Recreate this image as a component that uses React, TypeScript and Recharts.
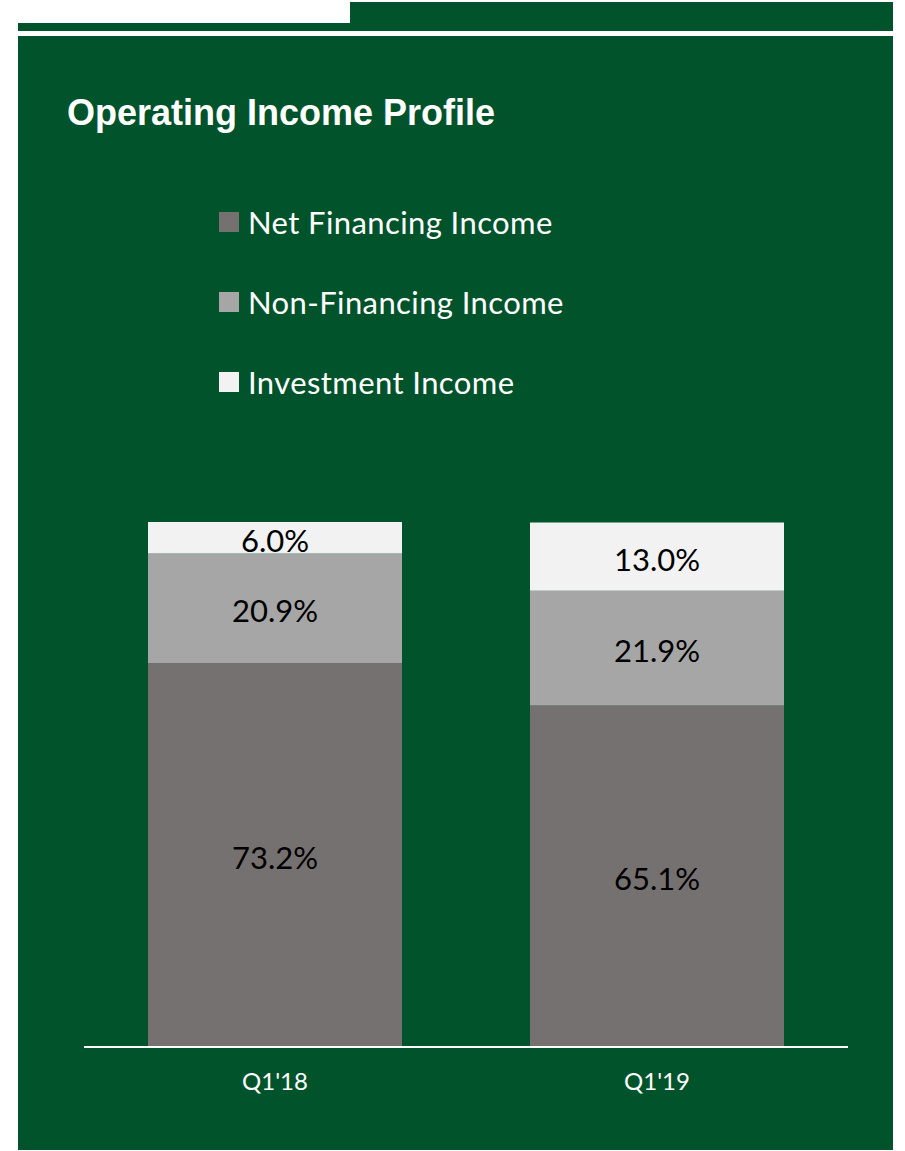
import { BarChart, Bar, XAxis, YAxis, Legend, LabelList } from "recharts";

const quarters = ["Q1'18", "Q1'19"];
const netFinancing = [73.2, 65.1];
const nonFinancing = [20.9, 21.9];
const investment = [6.0, 13.0];

const seriesKeys = ["net", "nonFin", "invest"];
const seriesNames = ["Net Financing Income", "Non-Financing Income", "Investment Income"];
const seriesColors = ["#767171", "#A6A6A6", "#F2F2F2"];

const GREEN = "#01532B";
const FONT = "Lato, 'Open Sans', sans-serif";

const data = quarters.map((q, i) => ({
  quarter: q,
  net: netFinancing[i],
  nonFin: nonFinancing[i],
  invest: investment[i],
}));

const fmt = (v: any) => `${Number(v).toFixed(1)}%`;

function LegendBox() {
  return (
    <div style={{ fontFamily: FONT }}>
      {seriesNames.map((name, i) => (
        <div
          key={name}
          style={{ display: "flex", alignItems: "center", height: 80 }}
        >
          <span
            style={{
              width: 20,
              height: 20,
              background: seriesColors[i],
              marginRight: 9,
              display: "inline-block",
            }}
          />
          <span style={{ color: "#fff", fontSize: 31, letterSpacing: 0.4 }}>{name}</span>
        </div>
      ))}
    </div>
  );
}

export default function App() {
  return (
    <div
      style={{
        position: "absolute",
        left: 0,
        top: 0,
        width: 905,
        height: 1151,
        background: "#fff",
        overflow: "hidden",
      }}
    >
      {/* header strips */}
      <div style={{ position: "absolute", left: 350, top: 2, width: 543, height: 29, background: GREEN }} />
      <div style={{ position: "absolute", left: 18, top: 23, width: 332, height: 8, background: GREEN }} />
      <div style={{ position: "absolute", left: 18, top: 36, width: 875, height: 1114, background: GREEN }} />

      <div
        style={{
          position: "absolute",
          left: 67,
          top: 93,
          color: "#fff",
          fontFamily: "'Liberation Sans', Arial, sans-serif",
          fontWeight: "bold",
          fontSize: 36,
          lineHeight: "40px",
          whiteSpace: "nowrap",
        }}
      >
        Operating Income Profile
      </div>

      <div style={{ position: "absolute", left: 0, top: 0 }}>
        <BarChart
          width={905}
          height={1151}
          data={data}
          margin={{ top: 522, right: 57, bottom: 44, left: 84 }}
          barSize={254}
        >
          <XAxis
            dataKey="quarter"
            height={60}
            axisLine={{ stroke: "#fff", strokeWidth: 2 }}
            tickLine={false}
            tickMargin={20}
            tick={{ fill: "#fff", fontSize: 24, fontFamily: FONT }}
          />
          <YAxis hide domain={[0, 100.1]} allowDataOverflow />
          <Legend
            layout="vertical"
            align="center"
            verticalAlign="middle"
            content={() => <LegendBox />}
            wrapperStyle={{ position: "absolute", left: 219, top: 182, width: 420 }}
          />
          {seriesKeys.map((k, i) => (
            <Bar
              key={k}
              dataKey={k}
              name={seriesNames[i]}
              stackId="a"
              fill={seriesColors[i]}
              isAnimationActive={false}
            >
              <LabelList
                dataKey={k}
                position="center"
                formatter={fmt}
                fill="#000"
                fontSize={31}
                fontFamily={FONT}
                dy={3}
              />
            </Bar>
          ))}
        </BarChart>
      </div>
    </div>
  );
}
